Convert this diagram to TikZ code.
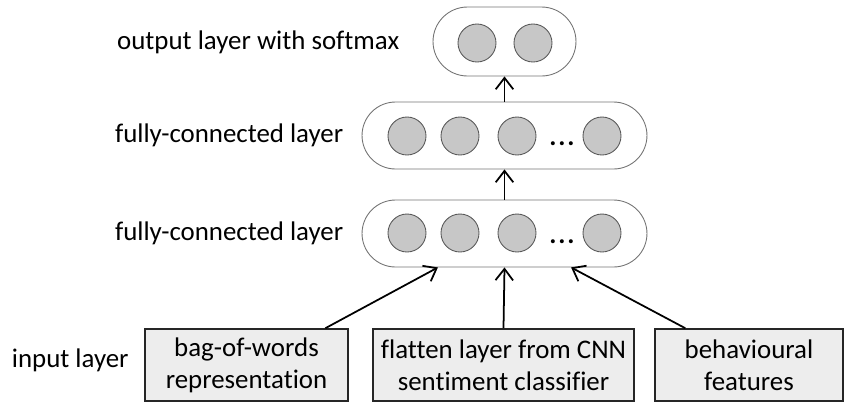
\documentclass[tikz,border=0pt]{standalone}
\usepackage{fontspec}
\setmainfont{Carlito}[Ligatures={NoCommon}]
\usetikzlibrary{arrows.meta,shapes.misc}

\begin{document}
\begin{tikzpicture}[
  x=0.02cm,y=-0.02cm,
  >={Straight Barb[length=6.5pt,width=10pt]},
  every node/.style={font=\fontsize{15.3}{18.4}\selectfont},
  layer/.style={rounded rectangle,draw=black!55,line width=0.5pt,
    minimum width=5.7cm,minimum height=1.34cm,inner sep=0pt},
  unit/.style={circle,draw=black!65,fill=black!22,line width=0.5pt,
    minimum size=0.76cm,inner sep=0pt},
  inbox/.style={draw=black!85,fill=black!7,line width=0.9pt,align=center,
    minimum height=1.44cm,inner sep=0pt},
  every path/.style={line width=1pt}]
\useasboundingbox (0,0) rectangle (846,403);
% layers
\node[layer,minimum width=2.86cm,minimum height=1.38cm] (out) at (504.5,41.5) {};
\node[layer] (fc2) at (504.5,135.5) {};
\node[layer] (fc1) at (504.5,233.5) {};
% units
\node[unit] (o1) at (477,43) {};
\node[unit] (o2) at (533,43) {};
\foreach \x [count=\i] in {407,460,517,602} {
  \node[unit] (a\i) at (\x,136) {};
  \node[unit] (b\i) at (\x,233) {};
}
\node[anchor=base] (adots) at (562,145) {\textbf{.\kern1pt.\kern1pt.}};
\node[anchor=base] (bdots) at (562,243) {\textbf{.\kern1pt.\kern1pt.}};
% inputs
\node[inbox,minimum width=4.06cm] (bow) at (246.5,365)
  {bag-of-words\\representation};
\node[inbox,minimum width=5.22cm] (cnn) at (503.5,365)
  {flatten layer from CNN\\sentiment classifier};
\node[inbox,minimum width=3.76cm] (beh) at (749,365)
  {behavioural\\features};
% labels
\node[anchor=east] (lout) at (406,42) {output layer with softmax};
\node[anchor=east] (lfc2) at (350,135) {fully-connected layer};
\node[anchor=east] (lfc1) at (350,233) {fully-connected layer};
\node[anchor=west,inner sep=0pt] (lin) at (11,360) {input layer};
% connections
\draw[->] (bow.25) -- (fc1.207);
\draw[->] (cnn.north) -- (fc1.south);
\draw[->] (beh.150) -- (fc1.333);
\draw[->] (fc1.north) -- (fc2.south);
\draw[->] (fc2.north) -- (out.south);
\end{tikzpicture}
\end{document}
